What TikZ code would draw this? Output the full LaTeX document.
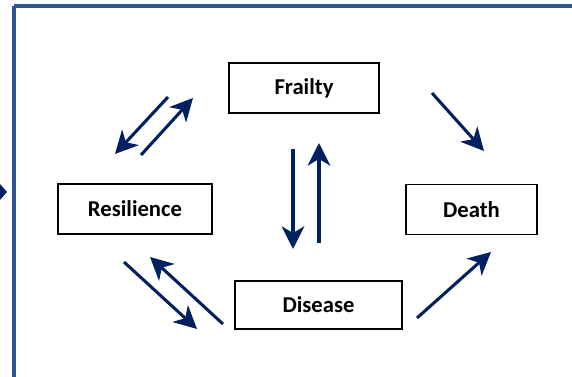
\documentclass[tikz,border=0pt]{standalone}
\usepackage{fontspec}
\setmainfont{Carlito}
\usetikzlibrary{arrows.meta}
\definecolor{navy}{RGB}{0,32,96}
\definecolor{framecol}{RGB}{47,85,151}
\begin{document}
\begin{tikzpicture}[
				x=0.75pt, y=-0.75pt,
				box/.style={draw, line width=1.1pt, font=\fontsize{17}{20}\selectfont\bfseries, minimum height=37.5pt, inner sep=0pt},
				arr/.style={-{Stealth[length=17pt,width=17pt,inset=5pt]}, line width=2.3pt, draw=navy}
			]
			\useasboundingbox (0,0) rectangle (572,377);
			% outer frame and the cut-off arrow at the left
			\draw[framecol, line width=2.4pt] (14,6) -- (600,6) (14,6) -- (14,400);
			\fill[navy] (0,184) -- (7,192) -- (0,200) -- cycle;
			% boxes
			\node[box, minimum width=112.5pt] (fr) at (304,88) {Frailty};
			\node[box, minimum width=115.5pt] (res) at (135,209) {Resilience};
			\node[box, minimum width=125pt, minimum height=36pt] (dis) at (318.5,305) {Disease};
			\node[box, minimum width=98pt] (dea) at (471.5,209.5) {Death};
			% arrow ends
			\coordinate (fd1) at (432,93);  \coordinate (fd2) at (484,151);
			\coordinate (dd1) at (417,318); \coordinate (dd2) at (491,252);
			\coordinate (fr1) at (168,97);  \coordinate (fr2) at (115,154);
			\coordinate (rf1) at (141,155); \coordinate (rf2) at (193,98);
			\coordinate (fs1) at (293,149); \coordinate (fs2) at (293,249);
			\coordinate (sf1) at (319,243); \coordinate (sf2) at (319,143);
			\coordinate (rd1) at (124,262); \coordinate (rd2) at (197,329);
			\coordinate (dr1) at (223,324); \coordinate (dr2) at (150,257);
			% arrows
			\draw[arr] (fd1) -- (fd2);
			\draw[arr] (dd1) -- (dd2);
			\draw[arr] (fr1) -- (fr2);
			\draw[arr] (rf1) -- (rf2);
			\draw[arr] (fs1) -- (fs2);
			\draw[arr] (sf1) -- (sf2);
			\draw[arr] (rd1) -- (rd2);
			\draw[arr] (dr1) -- (dr2);
		\end{tikzpicture}
\end{document}
